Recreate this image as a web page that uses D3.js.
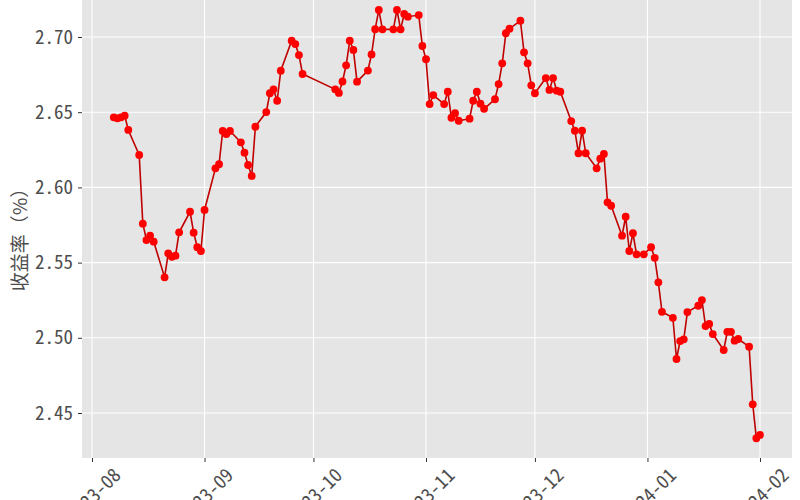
<!DOCTYPE html>
<html><head><meta charset="utf-8">
<script src="https://cdn.jsdelivr.net/npm/d3@7"></script>
<style>body{margin:0;background:#fff}svg{display:block}</style>
</head><body>
<svg id="c" width="800" height="500"></svg>
<script>
const dates = [
"2023-08-07","2023-08-08","2023-08-09","2023-08-10","2023-08-11","2023-08-14","2023-08-15","2023-08-16","2023-08-17","2023-08-18","2023-08-21","2023-08-22","2023-08-23","2023-08-24","2023-08-25","2023-08-28","2023-08-29","2023-08-30","2023-08-31",
"2023-09-01","2023-09-04","2023-09-05","2023-09-06","2023-09-07","2023-09-08","2023-09-11","2023-09-12","2023-09-13","2023-09-14","2023-09-15","2023-09-18","2023-09-19","2023-09-20","2023-09-21","2023-09-22","2023-09-25","2023-09-26","2023-09-27","2023-09-28",
"2023-10-07","2023-10-08","2023-10-09","2023-10-10","2023-10-11","2023-10-12","2023-10-13","2023-10-16","2023-10-17","2023-10-18","2023-10-19","2023-10-20","2023-10-23","2023-10-24","2023-10-25","2023-10-26","2023-10-27","2023-10-30","2023-10-31",
"2023-11-01","2023-11-02","2023-11-03","2023-11-06","2023-11-07","2023-11-08","2023-11-09","2023-11-10","2023-11-13","2023-11-14","2023-11-15","2023-11-16","2023-11-17","2023-11-20","2023-11-21","2023-11-22","2023-11-23","2023-11-24","2023-11-27","2023-11-28","2023-11-29","2023-11-30",
"2023-12-01","2023-12-04","2023-12-05","2023-12-06","2023-12-07","2023-12-08","2023-12-11","2023-12-12","2023-12-13","2023-12-14","2023-12-15","2023-12-18","2023-12-19","2023-12-20","2023-12-21","2023-12-22","2023-12-25","2023-12-26","2023-12-27","2023-12-28","2023-12-29","2023-12-31",
"2024-01-02","2024-01-03","2024-01-04","2024-01-05","2024-01-08","2024-01-09","2024-01-10","2024-01-11","2024-01-12","2024-01-15","2024-01-16","2024-01-17","2024-01-18","2024-01-19","2024-01-22","2024-01-23","2024-01-24","2024-01-25","2024-01-26","2024-01-29","2024-01-30","2024-01-31",
"2024-02-01"];
const values = [
2.6466,2.6459,2.6466,2.6477,2.6382,2.6216,2.5759,2.5650,2.5679,2.5639,2.5402,2.5562,2.5539,2.5546,2.5701,2.5838,2.5699,2.5602,2.5577,
2.5850,2.6127,2.6154,2.6375,2.6355,2.6375,2.6300,2.6231,2.6149,2.6076,2.6404,2.6501,2.6626,2.6652,2.6576,2.6776,2.6975,2.6953,2.6880,2.6754,
2.6652,2.6628,2.6704,2.6812,2.6975,2.6914,2.6703,2.6777,2.6884,2.7052,2.7180,2.7051,2.7051,2.7180,2.7051,2.7153,2.7135,2.7146,2.6940,
2.6852,2.6554,2.6614,2.6554,2.6636,2.6463,2.6493,2.6443,2.6457,2.6576,2.6636,2.6557,2.6523,2.6586,2.6687,2.6825,2.7025,2.7055,2.7108,2.6898,2.6825,2.6679,
2.6626,2.6727,2.6648,2.6727,2.6643,2.6636,2.6441,2.6377,2.6227,2.6377,2.6227,2.6127,2.6191,2.6222,2.5901,2.5878,2.5679,2.5805,2.5577,2.5695,2.5555,2.5555,
2.5602,2.5532,2.5369,2.5173,2.5133,2.4859,2.4978,2.4990,2.5171,2.5213,2.5251,2.5078,2.5092,2.5025,2.4919,2.5040,2.5040,2.4981,2.4992,2.4941,2.4558,2.4332,
2.4354];
const xTickDates = ["2023-08-01","2023-09-01","2023-10-01","2023-11-01","2023-12-01","2024-01-01","2024-02-01"];
const xTickLabels = ["2023-08","2023-09","2023-10","2023-11","2023-12","2024-01","2024-02"];
const yTicks = [2.45,2.50,2.55,2.60,2.65,2.70];
const yTickLabels = ["2.45","2.50","2.55","2.60","2.65","2.70"];
const yTitle = "收益率（%）";

const parse = d3.utcParse("%Y-%m-%d");
const data = dates.map((d,i)=>({date:parse(d), value:values[i]}));

const svg = d3.select("#c");
const panel = {left:82, right:792, top:-20, bottom:458};
const x = d3.scaleUtc().domain([parse("2023-08-01"), parse("2024-02-01")]).range([92,760]);
const y = d3.scaleLinear().domain([2.45,2.70]).range([413,37]);

const monoFont = "'Noto Sans Mono CJK JP','DejaVu Sans Mono',monospace";

svg.append("rect").attr("x",panel.left).attr("y",panel.top)
  .attr("width",panel.right-panel.left).attr("height",panel.bottom-panel.top)
  .attr("fill","#E5E5E5");

// grid
svg.append("g").selectAll("line").data(yTicks).join("line")
  .attr("x1",panel.left).attr("x2",panel.right)
  .attr("y1",d=>y(d)).attr("y2",d=>y(d))
  .attr("stroke","#fff").attr("stroke-width",1.1);
svg.append("g").selectAll("line").data(xTickDates).join("line")
  .attr("x1",d=>x(parse(d))).attr("x2",d=>x(parse(d)))
  .attr("y1",panel.top).attr("y2",panel.bottom)
  .attr("stroke","#fff").attr("stroke-width",1.1);

// y axis
const yAxis = d3.axisLeft(y).tickValues(yTicks)
  .tickFormat((d,i)=>yTickLabels[i]).tickSize(4).tickPadding(5);
const gy = svg.append("g").attr("transform",`translate(${panel.left},0)`).call(yAxis);
gy.select(".domain").remove();
gy.selectAll(".tick line").attr("stroke","#333").attr("stroke-width",1);
gy.selectAll(".tick text").attr("fill","#4D4D4D").style("font-family",monoFont).style("font-size","19px");

// x axis
const xAxis = d3.axisBottom(x).tickValues(xTickDates.map(parse))
  .tickFormat((d,i)=>xTickLabels[i]).tickSize(4);
const gx = svg.append("g").attr("transform",`translate(0,${panel.bottom})`).call(xAxis);
gx.select(".domain").remove();
gx.selectAll(".tick line").attr("stroke","#333").attr("stroke-width",1);
gx.selectAll(".tick text").attr("fill","#4D4D4D").style("font-family",monoFont).style("font-size","19px")
  .attr("y",null).attr("dy",null)
  .attr("text-anchor","middle").attr("dominant-baseline","central")
  .attr("transform","translate(0,36) rotate(-45)");

// y title
svg.append("text").attr("transform","translate(18,235) rotate(-90)")
  .attr("text-anchor","middle").attr("dominant-baseline","central")
  .attr("fill","#4D4D4D").style("font-family","'Noto Sans CJK SC'").style("font-size","19px")
  .text(yTitle);

// line + points
const line = d3.line().x(d=>x(d.date)).y(d=>y(d.value));
svg.append("path").datum(data).attr("d",line)
  .attr("fill","none").attr("stroke","#C00000").attr("stroke-width",1.6);
svg.append("g").selectAll("circle").data(data).join("circle")
  .attr("cx",d=>x(d.date)).attr("cy",d=>y(d.value)).attr("r",3.9)
  .attr("fill","#FF0000");
</script>
</body></html>
